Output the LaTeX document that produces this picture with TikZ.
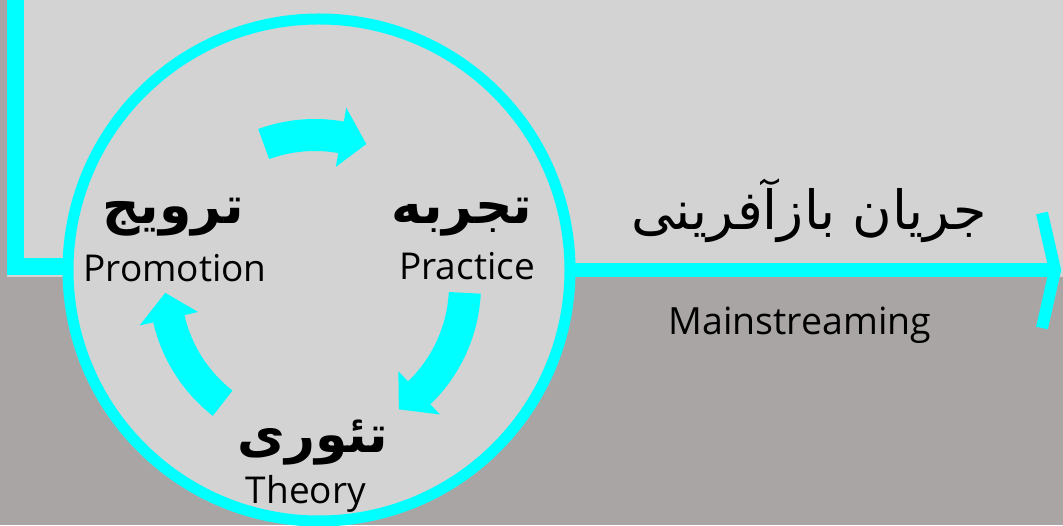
\documentclass[tikz,border=0pt]{standalone}
\usepackage{fontspec}
\setsansfont{Open Sans}
\newfontfamily\arabicfont[Script=Arabic]{DejaVu Sans}
\TeXXeTstate=1
\definecolor{bgdark}{HTML}{A9A5A4}
\definecolor{bglight}{HTML}{D3D3D3}
\definecolor{flowcyan}{HTML}{00FFFF}
% clockwise curved block arrow around the current origin: #1 start angle, #2 tip angle
\newcommand\cycarrow[2]{%
  \fill[flowcyan] (#1:166) arc[start angle=#1, end angle={#2+10}, radius=166]
    -- ({#2+10}:180) -- (#2:150) -- ({#2+10}:120) -- ({#2+10}:134)
    arc[start angle={#2+10}, end angle=#1, radius=134] -- cycle;}
\begin{document}
\begin{tikzpicture}[x=1pt,y=1pt,
  flowline/.style={draw=flowcyan, line width=#1, line join=miter},
  ring/.style={circle, draw=flowcyan, line width=11pt, fill=bglight,
    minimum size=502pt, inner sep=0pt, outer sep=0pt},
  latinlabel/.style={font=\sffamily\fontsize{37}{42}\selectfont, text=black,
    anchor=base, inner sep=0pt},
  arlabel/.style={font=\arabicfont\bfseries\fontsize{52}{60}\selectfont, text=black,
    anchor=base, inner sep=0pt},
  titlelabel/.style={font=\arabicfont\fontsize{54}{62}\selectfont, text=black,
    anchor=base, inner sep=0pt}]
\useasboundingbox (0,0) rectangle (1063,525);
% backgrounds
\fill[bgdark] (0,0) rectangle (1063,525);
\fill[bglight] (7,248) rectangle (1063,525);
% cycle circle
\node[ring] (cyc) at (319,255) {};
% flow lines
\coordinate (ltop) at (15.5,530);
\coordinate (lcorner) at (15.5,258);
\coordinate (tip) at (1055,255);
\coordinate (chevtop) at (1042,312);
\coordinate (chevbot) at (1042,197);
\draw[flowline=17pt] (ltop) -- (lcorner) -- (lcorner -| cyc.west);
\draw[flowline=14pt] (cyc.east) -- (tip);
\draw[flowline=12pt] (chevtop) -- (tip) -- (chevbot);
% cycle arrows
\begin{scope}[shift={(315,240)}]
  \cycarrow{110}{70}
  \cycarrow{-3}{-56}
  \cycarrow{232}{183}
\end{scope}
% labels
\node[arlabel] (practiceFa) at (462,301) {\beginR تجربه\endR};
\node[latinlabel] (practice) at (467,245) {Practice};
\node[arlabel] (promotionFa) at (173,301) {\beginR ترویج\endR};
\node[latinlabel] (promotion) at (175,243) {Promotion};
\node[arlabel] (theoryFa) at (313,73) {\beginR تئوری\endR};
\node[latinlabel] (theory) at (306,22) {Theory};
\node[titlelabel] (flowFa) at (809,295) {\beginR جریان بازآفرینی\endR};
\node[latinlabel, font=\sffamily\fontsize{37.5}{42}\selectfont] (flowEn) at (800,190) {Mainstreaming};
\end{tikzpicture}
\end{document}
